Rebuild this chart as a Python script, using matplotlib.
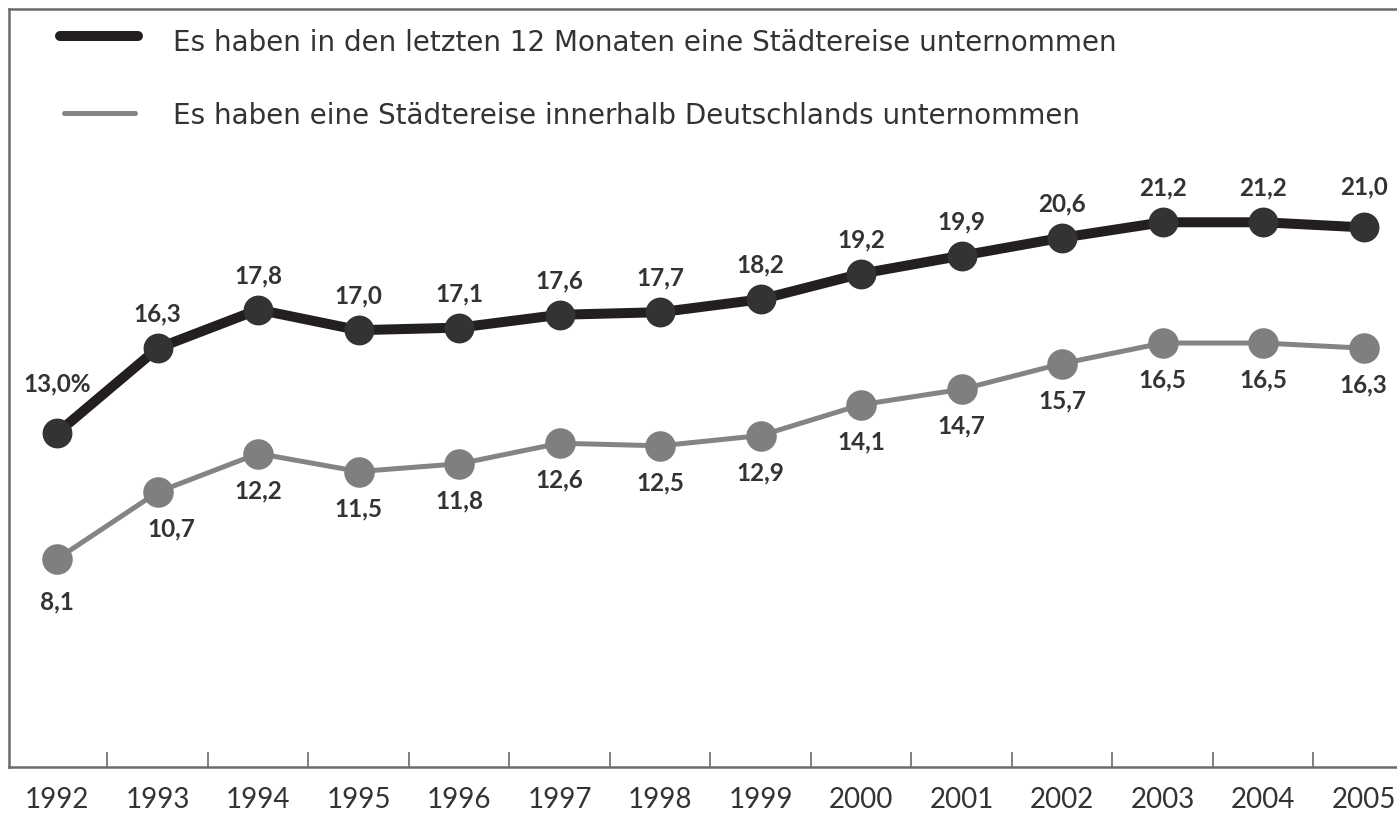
import matplotlib
matplotlib.use("Agg")
import matplotlib.pyplot as plt
from matplotlib.lines import Line2D

years = ["1992", "1993", "1994", "1995", "1996", "1997", "1998",
         "1999", "2000", "2001", "2002", "2003", "2004", "2005"]
total = [13.0, 16.3, 17.8, 17.0, 17.1, 17.6, 17.7, 18.2, 19.2, 19.9, 20.6, 21.2, 21.2, 21.0]
domestic = [8.1, 10.7, 12.2, 11.5, 11.8, 12.6, 12.5, 12.9, 14.1, 14.7, 15.7, 16.5, 16.5, 16.3]
legend_labels = ["Es haben in den letzten 12 Monaten eine Städtereise unternommen",
                 "Es haben eine Städtereise innerhalb Deutschlands unternommen"]

W, H = 1397, 815
fig = plt.figure(figsize=(W / 100, H / 100), dpi=100)
ax = fig.add_axes([9 / W, (H - 767) / H, (W - 9) / W + 0.01, (767 - 9) / H])

x = list(range(len(years)))
ax.set_xlim(-0.48, 13.37 + 0.1)
ax.set_ylim(0, 29.5)

dark_line, dark_mk = "#231f20", "#333333"
grey_line, grey_mk = "#848484", "#7f7f7f"
txt = "#333333"

ax.plot(x, total, color=dark_line, lw=7.2, solid_capstyle="round", zorder=2)
ax.plot(x, total, ls="none", marker="o", ms=21.5, mfc=dark_mk, mec="none", zorder=3)
ax.plot(x, domestic, color=grey_line, lw=3.6, solid_capstyle="round", zorder=2)
ax.plot(x, domestic, ls="none", marker="o", ms=22, mfc=grey_mk, mec="none", zorder=3)

lab_font = dict(fontsize=17.5, fontweight="bold", color=txt, family=["Lato", "DejaVu Sans"],
                ha="center", va="center")
for i, v in enumerate(total):
    s = f"{v:.1f}".replace(".", ",")
    dx, dy = 0, 34
    if i == 0:
        s += "%"
        dy = 49
    if i == len(total) - 1:
        dy = 40
    ax.annotate(s, (i, v), xytext=(dx, dy), textcoords="offset pixels", **lab_font)
for i, v in enumerate(domestic):
    s = f"{v:.1f}".replace(".", ",")
    dx, dy = 0, -37
    if i == 0:
        dy = -43
    if i == 1:
        dx = 14
    ax.annotate(s, (i, v), xytext=(dx, dy), textcoords="offset pixels", **lab_font)

# frame
for side in ["left", "top", "bottom"]:
    ax.spines[side].set_color("#6b6b6b")
    ax.spines[side].set_linewidth(1.8)
ax.spines["right"].set_visible(False)
ax.set_yticks([])
ax.set_xticks([i + 0.5 for i in range(len(years) - 1)])
ax.set_xticklabels([])
ax.tick_params(axis="x", direction="in", length=11, width=1.2, color="#6b6b6b")
for i, y in enumerate(years):
    ax.text(i, -33 / 25.7, y, ha="center", va="center", fontsize=20,
            color=txt, family=["Lato", "DejaVu Sans"], clip_on=False)

# legend
ax.add_line(Line2D([60 / W, 138 / W], [(H - 36) / H, (H - 36) / H], transform=fig.transFigure,
                   color=dark_line, lw=7.2, solid_capstyle="round"))
ax.add_line(Line2D([64 / W, 135 / W], [(H - 113) / H, (H - 113) / H], transform=fig.transFigure,
                   color=grey_line, lw=3.6, solid_capstyle="round"))
fig.text(173 / W, (H - 43) / H, legend_labels[0], fontsize=20, color=txt,
         family=["DejaVu Sans"], va="center", ha="left")
fig.text(173 / W, (H - 116) / H, legend_labels[1], fontsize=20, color=txt,
         family=["DejaVu Sans"], va="center", ha="left")

fig.savefig("out.png", dpi=100)
